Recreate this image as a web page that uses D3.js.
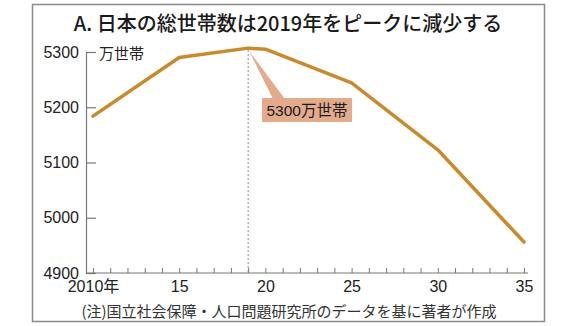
<!DOCTYPE html>
<html><head><meta charset="utf-8">
<script src="https://cdn.jsdelivr.net/npm/d3@7"></script>
<style>
html,body{margin:0;padding:0;background:#fff;}
svg{display:block;}
text{font-family:"Liberation Sans","Noto Sans CJK JP",sans-serif;fill:#222;}
.jp{font-family:"Noto Sans CJK JP",sans-serif;}
</style></head>
<body><svg id="c" width="579" height="326"></svg>
<script>
const years = [2010, 2015, 2019, 2020, 2025, 2030, 2035];
const households = [5184, 5290, 5307, 5305, 5244, 5123, 4956];
const yTicks = [4900, 5000, 5100, 5200, 5300];
const xTickYears = d3.range(2010, 2036);
const xLabels = {2010:"2010年",2015:"15",2020:"20",2025:"25",2030:"30",2035:"35"};
const peakYear = 2019;
const title = "A. 日本の総世帯数は2019年をピークに減少する";
const unitLabel = "万世帯";
const calloutText = "5300万世帯";
const note = "(注)国立社会保障・人口問題研究所のデータを基に著者が作成";

const svg = d3.select("#c");
const axisX0 = 86, axisY0 = 273;
const x = d3.scaleLinear().domain([2010, 2035]).range([93, 524]);
const y = d3.scaleLinear().domain([4900, 5300]).range([273, 52]);

// frame
svg.append("rect").attr("x",32.5).attr("y",4.5).attr("width",512).attr("height",317)
  .attr("fill","none").attr("stroke","#8a8a8a").attr("stroke-width",1.5);

// title
svg.append("text").attr("class","jp").attr("x",288).attr("y",31).attr("text-anchor","middle")
  .attr("font-size",20).attr("font-weight",500).style("fill","#1a1a1a").text(title);

// y axis
const yAxis = d3.axisLeft(y).tickValues(yTicks).tickSizeInner(-10).tickSizeOuter(0).tickPadding(7)
  .tickFormat(d3.format("d"));
const gy = svg.append("g").attr("transform",`translate(${axisX0},0)`).call(yAxis);
gy.select(".domain").attr("stroke","#777").attr("stroke-width",1.2);
gy.selectAll(".tick line").attr("stroke","#777").attr("stroke-width",1.2);
gy.selectAll(".tick text").attr("font-size",16).attr("font-family","Liberation Sans, Arial, sans-serif").style("fill","#222");

svg.append("text").attr("class","jp").attr("x",99).attr("y",59).attr("font-size",15).text(unitLabel);

// x axis
const xAxis = d3.axisBottom(x).tickValues(xTickYears).tickSizeInner(-5).tickSizeOuter(0).tickPadding(8)
  .tickFormat(d => xLabels[d] || "");
const gx = svg.append("g").attr("transform",`translate(0,${axisY0})`).call(xAxis);
gx.select(".domain").remove();
gx.append("line").attr("x1",axisX0).attr("x2",x(2035)+4).attr("y1",0).attr("y2",0)
  .attr("stroke","#777").attr("stroke-width",1.2);
gx.selectAll(".tick line").attr("stroke","#777").attr("stroke-width",1);
gx.selectAll(".tick text").attr("font-size",16).attr("font-family","Liberation Sans, 'Noto Sans CJK JP', sans-serif").style("fill","#222");

// dashed peak line
svg.append("line").attr("x1",x(peakYear)).attr("x2",x(peakYear))
  .attr("y1",y(5307)+2).attr("y2",axisY0)
  .attr("stroke","#888").attr("stroke-width",1).attr("stroke-dasharray","2,2");

// line
const data = years.map((yr,i)=>({yr, v:households[i]}));
svg.append("path").datum(data)
  .attr("fill","none").attr("stroke","#c98a2c").attr("stroke-width",3.5)
  .attr("stroke-linejoin","round").attr("stroke-linecap","round")
  .attr("d", d3.line().x(d=>x(d.yr)).y(d=>y(d.v)));

// callout
const px = x(peakYear), py = y(5307);
const bx = 262, by = 98, bw = 90, bh = 24;
svg.append("path").attr("d",`M${px+1},${py+3} L${bx+11},${by+1} L${bx+23},${by+1} Z`).attr("fill","#e4aa8c");
svg.append("rect").attr("x",bx).attr("y",by).attr("width",bw).attr("height",bh).attr("fill","#e4aa8c");
svg.append("text").attr("x",bx+bw/2).attr("y",by+bh/2+5.5).attr("text-anchor","middle")
  .attr("font-size",15.5).style("fill","#1a1a1a").text(calloutText);

// note
svg.append("text").attr("class","jp").attr("x",289).attr("y",317).attr("text-anchor","middle")
  .attr("font-size",15).style("fill","#333").text(note);
</script></body></html>
